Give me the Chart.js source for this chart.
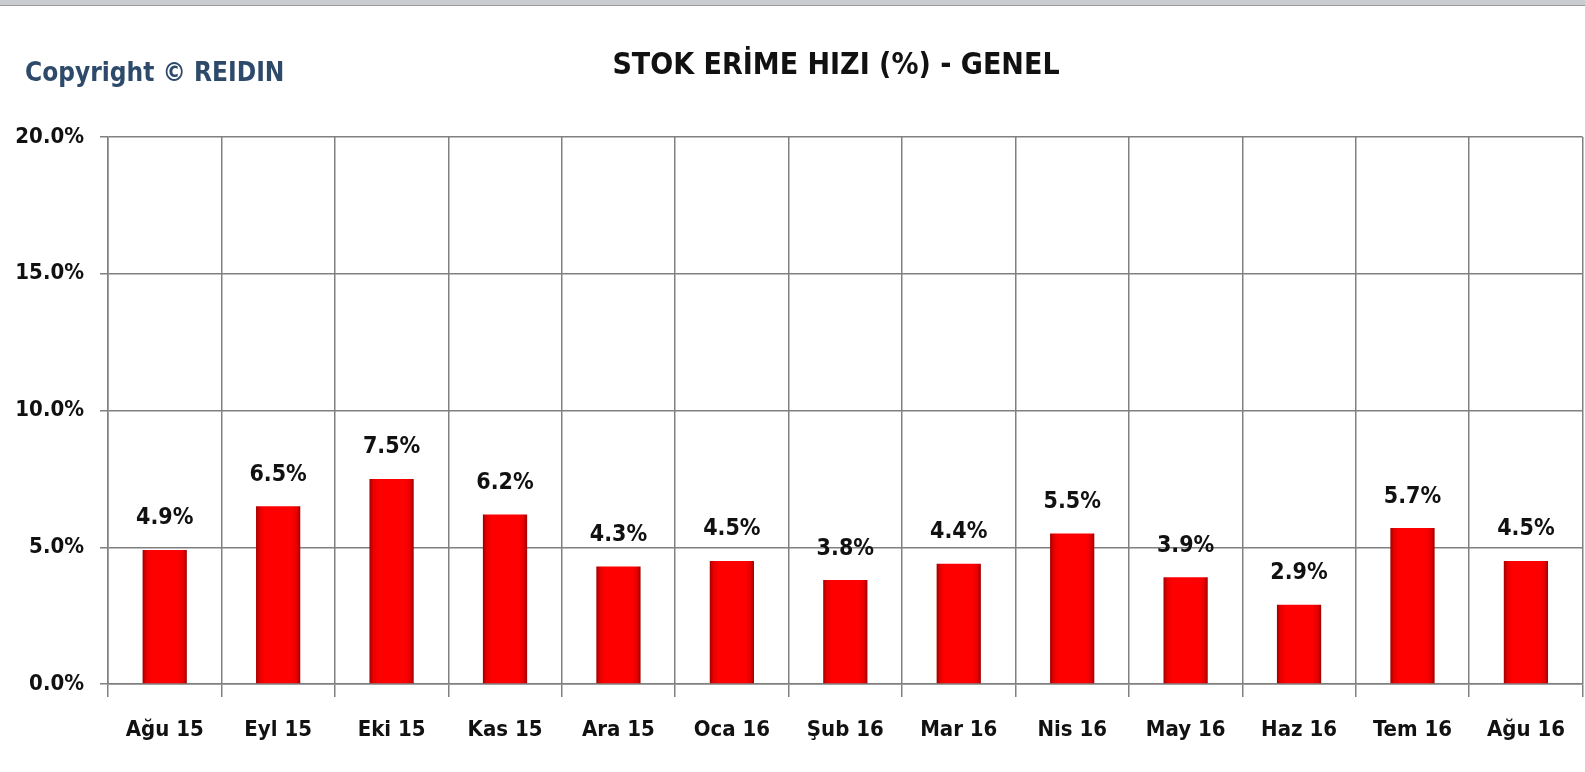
<!DOCTYPE html>
<html>
<head>
<meta charset="utf-8">
<script src="https://cdn.jsdelivr.net/npm/chart.js@4"></script>
<style>
  html, body { margin: 0; padding: 0; background: #fff; }
  body { width: 1585px; height: 772px; position: relative; overflow: hidden; }
  #topband { position: absolute; left: 0; top: 0; width: 1585px; height: 5px; background: #c9ccd0; border-bottom: 1px solid #9a9a9a; }
  #copyright { position: absolute; left: 25px; top: 57px; font: bold 26px 'Liberation Sans Narrow', 'DejaVu Sans Condensed', sans-serif; color: #2e4a6b; }
  #title { position: absolute; left: 0; width: 1672px; top: 46px; text-align: center; font: bold 30px 'Liberation Sans Narrow', 'DejaVu Sans Condensed', sans-serif; color: #111; }
  #wrap { position: absolute; left: 0; top: 0; width: 1585px; height: 772px; }
</style>
</head>
<body>
<div id="wrap"><canvas id="stokChart" width="1585" height="772"></canvas></div>
<div id="topband"></div>
<div id="copyright">Copyright © REIDIN</div>
<div id="title">STOK ERİME HIZI (%) - GENEL</div>
<script>
const months = ["Ağu 15", "Eyl 15", "Eki 15", "Kas 15", "Ara 15", "Oca 16", "Şub 16", "Mar 16", "Nis 16", "May 16", "Haz 16", "Tem 16", "Ağu 16"];
const stokRate = [4.9, 6.5, 7.5, 6.2, 4.3, 4.5, 3.8, 4.4, 5.5, 3.9, 2.9, 5.7, 4.5];
const yTicks = [0, 5, 10, 15, 20];

const fontFamily = "'Liberation Sans Narrow', 'DejaVu Sans Condensed', sans-serif";

// red bar with dark edges, like the excel bevel
function barFill(context) {
    const chart = context.chart;
    const el = context.element;
    if (!el || !chart.chartArea || !el.width) return '#ff0000';
    const left = el.x - el.width / 2;
    const g = chart.ctx.createLinearGradient(left, 0, left + el.width, 0);
    g.addColorStop(0, '#a00000');
    g.addColorStop(0.08, '#e60000');
    g.addColorStop(0.2, '#ff0000');
    g.addColorStop(0.8, '#ff0000');
    g.addColorStop(0.92, '#e60000');
    g.addColorStop(1, '#a00000');
    return g;
}

const valueLabels = {
    id: 'valueLabels',
    afterDatasetsDraw(chart) {
        const ctx = chart.ctx;
        const meta = chart.getDatasetMeta(0);
        ctx.save();
        ctx.font = 'bold 23px ' + fontFamily;
        ctx.fillStyle = '#111';
        ctx.textAlign = 'center';
        ctx.textBaseline = 'bottom';
        meta.data.forEach((bar, i) => {
            ctx.fillText(stokRate[i].toFixed(1) + '%', bar.x, bar.y - 20);
        });
        ctx.restore();
    }
};

const ctx = document.getElementById('stokChart').getContext('2d');
const chart = new Chart(ctx, {
    type: 'bar',
    data: {
        labels: months,
        datasets: [{
            data: stokRate,
            backgroundColor: barFill,
            borderWidth: 0,
            categoryPercentage: 1,
            barPercentage: 0.39
        }]
    },
    options: {
        responsive: false,
        animation: false,
        devicePixelRatio: 1,
        layout: { padding: { top: 137, right: 2, left: 0, bottom: 0 } },
        plugins: {
            legend: { display: false },
            tooltip: { enabled: false }
        },
        scales: {
            x: {
                grid: { color: '#808080', lineWidth: 1.5, tickLength: 13, offset: true },
                border: { color: '#808080', width: 1.5 },
                ticks: {
                    color: '#111',
                    padding: 20,
                    font: { family: fontFamily, size: 22, weight: 'bold' }
                },
                afterFit(scale) { scale.height = 88; }
            },
            y: {
                min: 0,
                max: 20,
                afterBuildTicks(scale) { scale.ticks = yTicks.map(v => ({ value: v })); },
                grid: { color: '#808080', lineWidth: 1.5, tickLength: 8 },
                border: { color: '#808080', width: 1.5 },
                ticks: {
                    color: '#111',
                    padding: 16,
                    font: { family: fontFamily, size: 22, weight: 'bold' },
                    callback: v => v.toFixed(1) + '%'
                },
                afterFit(scale) { scale.width = 108; }
            }
        }
    },
    plugins: [valueLabels]
});
// redraw once so the gradients know the bar geometry
chart.update();
</script>
</body>
</html>
